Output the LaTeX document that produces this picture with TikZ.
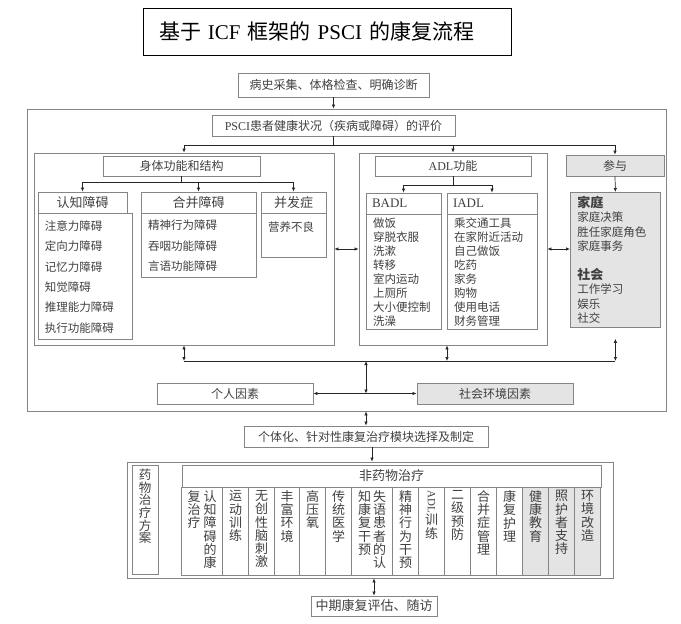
\documentclass[tikz,border=0pt]{standalone}
\usepackage{fontspec}
\setmainfont{Noto Sans CJK SC}
\newfontfamily\lat{Liberation Serif}
\usetikzlibrary{positioning,arrows.meta}
\definecolor{edge}{HTML}{858585}
\definecolor{ink}{HTML}{404040}
\definecolor{shade}{HTML}{E4E4E4}

\begin{document}
\begin{tikzpicture}[x=1pt, y=-1pt, every node/.style={text=ink, font=\fontsize{12}{14}\selectfont}]
  \tikzset{
    plainbox/.style={draw=edge, line width=0.8pt, inner sep=0pt, minimum height=21pt, align=center},
    greybox/.style={plainbox, fill=shade},
    headbox/.style={plainbox, font=\fontsize{13}{15}\selectfont},
    itembox/.style={plainbox, anchor=north west, align=left, inner xsep=7pt, font=\fontsize{11.5}{20.4}\selectfont},
    cellbox/.style={draw=edge, line width=0.8pt, minimum height=88pt, inner sep=0pt, outer sep=0pt},
    vtext/.style={inner sep=0pt, align=center, font=\fontsize{13}{13.2}\selectfont},
    arr/.style={-{Latex[length=4pt,width=3.5pt]}, line width=0.7pt, black!85},
    dbl/.style={{Latex[length=4pt,width=3.5pt]}-{Latex[length=4pt,width=3.5pt]}, line width=0.7pt, black!85},
    wire/.style={line width=0.7pt, black!85}
  }
  \useasboundingbox (0,0) rectangle (681,624);

  \node[draw=black, line width=0.8pt, minimum width=368pt, minimum height=47pt, text width=336pt, inner xsep=16pt, inner ysep=0pt, align=left, text=black, font=\fontsize{21}{24}\selectfont] (title) at (327,31.5) {基于 {\lat ICF} 框架的 {\lat PSCI} 的康复流程};

  \node[plainbox, minimum width=191pt, minimum height=24pt] (history) at (333.5,85) {病史采集、体格检查、明确诊断};
  \node[draw=edge, line width=0.8pt, minimum width=639pt, minimum height=302pt] (evalbox) at (346.5,260) {};
  \node[plainbox, minimum width=243pt] (psci) at (333.5,125.5) {{\lat PSCI}患者健康状况（疾病或障碍）的评价};
  \draw[arr] (history.south) -- (history.south |- evalbox.north);

  \node[plainbox, minimum width=300pt, minimum height=192pt] (body) at (184,249) {};
  \node[plainbox, minimum width=157pt, minimum height=20pt] (bodyhead) at (181.5,166) {身体功能和结构};
  \node[headbox, minimum width=89pt] (cog) at (82.5,202.5) {认知障碍};
  \node[itembox, minimum width=94pt, minimum height=126pt, text width=80pt] (coglist) at (cog.south west) {注意力障碍\\定向力障碍\\记忆力障碍\\知觉障碍\\推理能力障碍\\执行功能障碍};
  \node[headbox, minimum width=115pt] (comb) at (198.5,202.5) {合并障碍};
  \node[itembox, minimum width=115pt, minimum height=64pt, text width=101pt] (comblist) at (comb.south west) {精神行为障碍\\吞咽功能障碍\\言语功能障碍};
  \node[headbox, minimum width=65pt] (compl) at (293.5,202.5) {并发症};
  \node[itembox, minimum width=65pt, minimum height=44pt, text width=51pt, text depth=18pt] (compllist) at (compl.south west) {营养不良};
  \draw[arr] (bodyhead.south) -- ++(0,6) -| (cog.north);
  \draw[arr] (bodyhead.south) -- ++(0,6) -| (comb.north);
  \draw[arr] (bodyhead.south) -- ++(0,6) -| (compl.north);

  \node[plainbox, minimum width=188pt, minimum height=192pt] (adl) at (453,249) {};
  \node[plainbox, minimum width=156pt, minimum height=20pt] (adlhead) at (453,166) {{\lat ADL}功能};
  \node[headbox, minimum width=75pt, text width=63pt, inner xsep=6pt, align=left] (badl) at (403.5,203.5) {\lat BADL};
  \node[itembox, minimum width=75pt, minimum height=115pt, text width=61pt, font=\fontsize{11.5}{14}\selectfont] (badllist) at (badl.south west) {做饭\\穿脱衣服\\洗漱\\转移\\室内运动\\上厕所\\大小便控制\\洗澡};
  \node[headbox, minimum width=90pt, text width=78pt, inner xsep=6pt, align=left] (iadl) at (492,203.5) {\lat IADL};
  \node[itembox, minimum width=90pt, minimum height=115pt, text width=76pt, font=\fontsize{11.5}{14}\selectfont] (iadllist) at (iadl.south west) {乘交通工具\\在家附近活动\\自己做饭\\吃药\\家务\\购物\\使用电话\\财务管理};
  \draw[arr] (adlhead.south) -- ++(0,9) -| (badl.north);
  \draw[arr] (adlhead.south) -- ++(0,9) -| (iadl.north);

  \node[greybox, minimum width=98pt] (part) at (615,165.5) {参与};
  \node[itembox, fill=shade, minimum width=90pt, minimum height=135pt, text width=76pt, font=\fontsize{11.5}{14.4}\selectfont] (famsoc) at (570,192) {{\bfseries\fontsize{13}{14.4}\selectfont 家庭}\\家庭决策\\胜任家庭角色\\家庭事务\\[14.4pt]{\bfseries\fontsize{13}{14.4}\selectfont 社会}\\工作学习\\娱乐\\社交};
  \draw[arr] (part.south) -- (famsoc.north);

  \draw[arr] (psci.south) -- ++(0,9) -| (body.north);
  \draw[arr] (psci.south) -- ++(0,9) -| (adl.north);
  \draw[arr] (psci.south) -- ++(0,9) -| (part.north);
  \draw[dbl] (body.east) -- (adl.west);
  \draw[dbl] (adl.east) -- (adl.east -| famsoc.west);

  \coordinate (hub) at (366,361);
  \draw[dbl] (body.south) -- (body.south |- hub);
  \draw[dbl] ([xshift=-6pt]adl.south) -- ([xshift=-6pt]adl.south |- hub);
  \draw[dbl, shorten <=11pt] (famsoc.south) -- (famsoc.south |- hub);
  \draw[wire] (body.south |- hub) -- (famsoc.south |- hub);
  \node[plainbox, minimum width=156pt] (personal) at (235,393.5) {个人因素};
  \node[greybox, minimum width=156pt] (social) at (495,393.5) {社会环境因素};
  \draw[dbl] (hub) -- (hub |- personal.east);
  \draw[dbl] (personal) -- (social);

  \node[plainbox, minimum width=244pt] (plan) at (366,436.5) {个体化、针对性康复治疗模块选择及制定};
  \draw[dbl] (plan.north |- evalbox.south) -- (plan.north);
  \node[plainbox, minimum width=486pt, minimum height=116pt] (therapy) at (370,520) {};
  \draw[arr] ([xshift=6pt]plan.south) -- ([xshift=6pt]plan.south |- therapy.north);

  \node[plainbox, minimum width=26pt, minimum height=109pt] (drug) at (145,519.5) {};
  \node[vtext, anchor=north, font=\fontsize{12.5}{12.6}\selectfont] (drugtxt) at (145,469) {药\\物\\治\\疗\\方\\案};
  \node[plainbox, minimum width=419pt, minimum height=22pt, font=\fontsize{13}{15}\selectfont] (nondrug) at (391.5,476) {非药物治疗};

  \node[cellbox, minimum width=41pt, anchor=north west] (c1) at (nondrug.south west) {};
  \node[cellbox, minimum width=26pt, right=0pt of c1] (c2) {};
  \node[cellbox, minimum width=26pt, right=0pt of c2] (c3) {};
  \node[cellbox, minimum width=25pt, right=0pt of c3] (c4) {};
  \node[cellbox, minimum width=26pt, right=0pt of c4] (c5) {};
  \node[cellbox, minimum width=26pt, right=0pt of c5] (c6) {};
  \node[cellbox, minimum width=41pt, right=0pt of c6] (c7) {};
  \node[cellbox, minimum width=26pt, right=0pt of c7] (c8) {};
  \node[cellbox, minimum width=26pt, right=0pt of c8] (c9) {};
  \node[cellbox, minimum width=26pt, right=0pt of c9] (c10) {};
  \node[cellbox, minimum width=26pt, right=0pt of c10] (c11) {};
  \node[cellbox, minimum width=26pt, right=0pt of c11] (c12) {};
  \node[cellbox, fill=shade, minimum width=26pt, right=0pt of c12] (c13) {};
  \node[cellbox, fill=shade, minimum width=26pt, right=0pt of c13] (c14) {};
  \node[cellbox, fill=shade, minimum width=26pt, right=0pt of c14] (c15) {};

  \node[vtext, below=3pt of c1.north, xshift=8pt] (t1) {认\\知\\障\\碍\\的\\康};
  \node[vtext, below=3pt of c1.north, xshift=-8pt] (t1b) {复\\治\\疗};
  \node[vtext, below=3pt of c2.north] (t2) {运\\动\\训\\练};
  \node[vtext, below=3pt of c3.north] (t3) {无\\创\\性\\脑\\刺\\激};
  \node[vtext, below=3pt of c4.north] (t4) {丰\\富\\环\\境};
  \node[vtext, below=3pt of c5.north] (t5) {高\\压\\氧};
  \node[vtext, below=3pt of c6.north] (t6) {传\\统\\医\\学};
  \node[vtext, below=3pt of c7.north, xshift=7.5pt] (t7) {失\\语\\患\\者\\的\\认};
  \node[vtext, below=3pt of c7.north, xshift=-7.5pt] (t7b) {知\\康\\复\\干\\预};
  \node[vtext, below=3pt of c8.north] (t8) {精\\神\\行\\为\\干\\预};
  \node[vtext, below=3pt of c9.north] (t9) {\rotatebox{-90}{\lat\fontsize{11}{12}\selectfont ADL}\\训\\练};
  \node[vtext, below=3pt of c10.north] (t10) {二\\级\\预\\防};
  \node[vtext, below=3pt of c11.north] (t11) {合\\并\\症\\管\\理};
  \node[vtext, below=3pt of c12.north] (t12) {康\\复\\护\\理};
  \node[vtext, below=3pt of c13.north] (t13) {健\\康\\教\\育};
  \node[vtext, below=3pt of c14.north] (t14) {照\\护\\者\\支\\持};
  \node[vtext, below=3pt of c15.north] (t15) {环\\境\\改\\造};

  \node[plainbox, minimum width=126pt, minimum height=20pt, font=\fontsize{13}{15}\selectfont] (followup) at (374,606) {中期康复评估、随访};
  \draw[dbl] (followup.north |- therapy.south) -- (followup.north);
\end{tikzpicture}
\end{document}
